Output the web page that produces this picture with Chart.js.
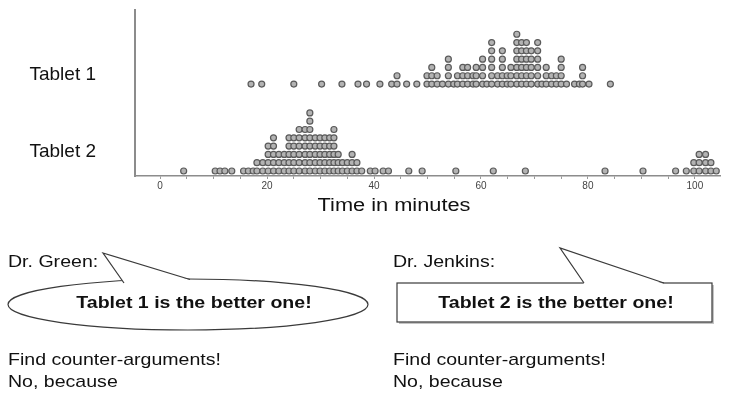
<!DOCTYPE html>
<html>
<head>
<meta charset="utf-8">
<script src="https://cdn.jsdelivr.net/npm/chart.js@4.4.0/dist/chart.umd.min.js"></script>
<style>
  html, body { margin: 0; padding: 0; background: #fff; }
  body {
    width: 738px; height: 398px; position: relative; overflow: hidden;
    font-family: "Liberation Sans", Arial, sans-serif; color: #111;
  }
  #chartBox { position: absolute; left: 0; top: 0; width: 738px; height: 195px; }
  svg { position: absolute; left: 0; top: 0; }
  .txt {
    position: absolute; font-size: 17px; line-height: 20px; white-space: nowrap;
    transform-origin: left center; transform: scaleX(1.15);
  }
  .mid { width: 260px; text-align: center; transform-origin: center center; }
  .bold { font-weight: bold; }
  .axisTitle { font-size: 18px; transform: scaleX(1.21); }
</style>
</head>
<body>
<div id="chartBox"><canvas id="dotChart" width="738" height="195"></canvas></div>

<svg width="738" height="398">
  <!-- Dr. Green: ellipse bubble -->
  <ellipse cx="188" cy="304.5" rx="180" ry="25.5" fill="#fff" stroke="#3a3a3a" stroke-width="1.2"/>
  <polygon points="124,283.5 103,253 190,280" fill="#fff" stroke="none"/>
  <polyline points="124,283 103,253 190,279.5" fill="none" stroke="#3a3a3a" stroke-width="1.2"/>
  <!-- Dr. Jenkins: box bubble -->
  <rect x="399" y="285" width="315" height="39" fill="#c4c4c4"/>
  <rect x="397" y="283" width="315" height="39" fill="#fff" stroke="#3a3a3a" stroke-width="1.2"/>
  <polygon points="584,284 560,248 664,284" fill="#fff" stroke="none"/>
  <polyline points="584,283 560,248 664,283" fill="none" stroke="#3a3a3a" stroke-width="1.2"/>
</svg>

<div class="txt mid axisTitle" style="left:264px; top:195px;">Time in minutes</div>

<div class="txt" style="left:8px; top:252px;">Dr. Green:</div>
<div class="txt" style="left:393px; top:252px;">Dr. Jenkins:</div>

<div class="txt mid bold" style="left:64px; top:293px;">Tablet 1 is the better one!</div>
<div class="txt mid bold" style="left:426px; top:293px;">Tablet 2 is the better one!</div>

<div class="txt" style="left:8px; top:350px;">Find counter-arguments!</div>
<div class="txt" style="left:393px; top:350px;">Find counter-arguments!</div>
<div class="txt" style="left:8px; top:372px;">No, because</div>
<div class="txt" style="left:393px; top:372px;">No, because</div>

<script>
// dot plot data: time (minutes) of each column and how many dots are stacked on it
const tablet1Minutes = [17, 19, 25, 30.2, 34, 37, 38.6, 41.1, 43.3, 44.3, 46.1, 48, 49.9, 50.8, 51.8, 52.8,
  53.9, 54.9, 55.6, 56.6, 57.5, 58.5, 59.1, 60.3, 61.1, 62, 63.1, 64, 64.9, 65.6, 66.7, 67.6, 68.5,
  69.4, 70.6, 71.4, 72.2, 73.2, 74.1, 75, 76, 77.5, 78.4, 79, 80.2, 84.2];
const tablet1Counts = [1, 1, 1, 1, 1, 1, 1, 1, 1, 2, 1, 1, 2, 3, 2, 1,
  4, 1, 2, 3, 3, 2, 3, 4, 1, 6, 2, 5, 2, 3, 7, 6, 6,
  5, 6, 1, 3, 2, 2, 4, 1, 1, 1, 3, 1, 1];

const tablet2Minutes = [4.4, 10.3, 11.2, 12.1, 13.4, 15.6, 16.5, 17.4, 18.1, 19.2, 20.2, 21.2, 22.2, 23.2,
  24.1, 25, 26, 27.1, 28, 29, 29.9, 30.8, 31.7, 32.5, 33.3, 34.1, 35, 35.9, 36.8, 37.7, 39.3, 40.2,
  41.7, 42.7, 46.5, 49, 55.3, 62.3, 68.3, 83.2, 90.3, 96.4, 98.4, 99.8, 100.8, 102, 103, 104];
const tablet2Counts = [1, 1, 1, 1, 1, 1, 1, 1, 2, 2, 4, 5, 3, 3,
  5, 5, 6, 6, 8, 5, 5, 5, 5, 6, 3, 2, 2, 3, 2, 1, 1, 1,
  1, 1, 1, 1, 1, 1, 1, 1, 1, 1, 1, 2, 3, 3, 2, 1];

const tabletNames = ["Tablet 1", "Tablet 2"];
const xTickLabels = [0, 20, 40, 60, 80, 100];

// each row sits on its own baseline, dots stack one level per value
const ROW_BASE = { "Tablet 1": 10.48, "Tablet 2": 0 };
const LABEL_POS = [11.57, 2.29];

function stackDots(minutes, counts, base) {
  const pts = [];
  minutes.forEach((m, i) => {
    for (let k = 0; k < counts[i]; k++) {
      pts.push({ x: m, y: base + k });
    }
  });
  return pts;
}

const dotStyle = {
  backgroundColor: "#b3b3b3",
  borderColor: "#5a5a5a",
  borderWidth: 1.2,
  pointRadius: 3,
  pointHoverRadius: 3,
  clip: false
};

const fontFamily = '"Liberation Sans", Arial, sans-serif';

new Chart(document.getElementById("dotChart").getContext("2d"), {
  type: "scatter",
  data: {
    datasets: [
      Object.assign({ label: tabletNames[0], data: stackDots(tablet1Minutes, tablet1Counts, ROW_BASE["Tablet 1"]) }, dotStyle),
      Object.assign({ label: tabletNames[1], data: stackDots(tablet2Minutes, tablet2Counts, ROW_BASE["Tablet 2"]) }, dotStyle)
    ]
  },
  options: {
    responsive: false,
    animation: false,
    layout: { padding: { top: 10, right: 18, left: 0, bottom: 0 } },
    plugins: { legend: { display: false }, tooltip: { enabled: false } },
    scales: {
      x: {
        type: "linear",
        min: -4.7,
        max: 104.7,
        afterFit: (s) => { s.height = 19; },
        ticks: {
          stepSize: 5,
          includeBounds: false,
          autoSkip: false,
          maxRotation: 0,
          padding: 1,
          color: "#444",
          font: { size: 10, family: fontFamily },
          callback: (v) => (xTickLabels.includes(v) ? String(v) : "")
        },
        grid: { drawOnChartArea: false, drawTicks: true, tickLength: 3, color: "#9a9a9a" },
        border: { color: "#8c8c8c", width: 1.5 }
      },
      y: {
        type: "linear",
        min: -0.6,
        max: 19.4,
        afterFit: (s) => { s.width = 135; },
        afterBuildTicks: (s) => { s.ticks = LABEL_POS.map((v) => ({ value: v })); },
        ticks: {
          padding: 0,
          color: "#111",
          font: { size: 19, family: fontFamily, lineHeight: 1 },
          callback: (v, i) => tabletNames[i]
        },
        // invisible tick marks keep the labels away from the axis line
        grid: { display: true, drawOnChartArea: false, drawTicks: true, tickLength: 39, color: "rgba(0,0,0,0)" },
        border: { color: "#8c8c8c", width: 2 }
      }
    }
  }
});
</script>
</body>
</html>
